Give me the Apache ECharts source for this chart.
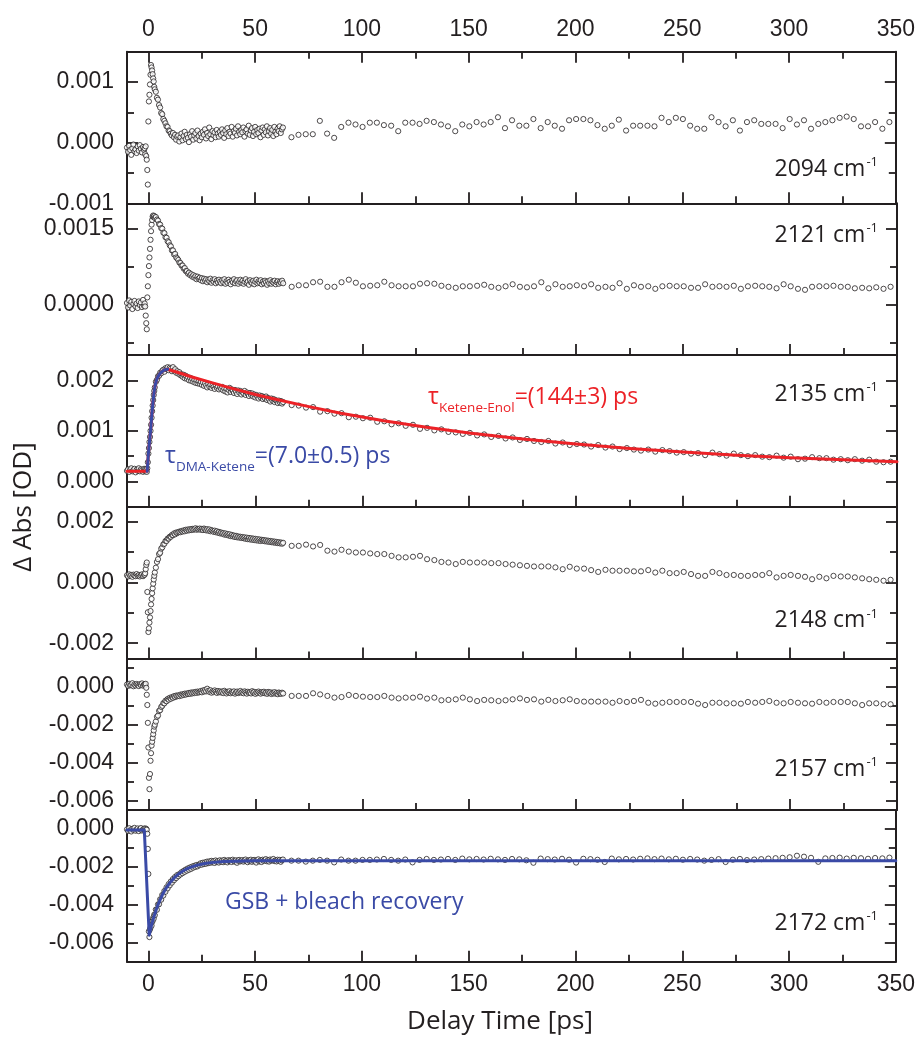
<!DOCTYPE html>
<html>
<head>
<meta charset="utf-8">
<script src="https://cdn.jsdelivr.net/npm/echarts@6/dist/echarts.min.js"></script>
<style>
html,body{margin:0;padding:0;background:#fff;}
#chart{width:918px;height:1038px;}
</style>
</head>
<body>
<div id="chart"></div>
<script>
// ---------- shared delay-time grids (ps) ----------
const T_DENSE = [
-10,-9.5,-9,-8.5,-8,-7.5,-7,-6.5,-6,-5.5,-5,-4.5,-4,-3.5,-3,-2.5,-2,
-1.75,-1.5,-1.25,-1,-0.75,-0.5,-0.25,0,0.25,0.5,0.75,1,1.25,1.5,1.75,2,2.25,2.5,2.75,3,
3.5,4,4.5,5,5.5,6,6.5,7,7.5,8,8.5,9,9.5,10,10.5,11,11.5,12,12.5,13,13.5,
14,14.5,15,15.5,16,16.5,17,17.5,18,18.5,19,19.5,20,20.5,21,21.5,22,22.5,23,23.5,
24,24.5,25,25.5,26,26.5,27,27.5,28,28.5,29,29.5,30,30.5,31,31.5,32,32.5,33,33.5,
34,34.5,35,35.5,36,36.5,37,37.5,38,38.5,39,39.5,40,40.5,41,41.5,42,42.5,43,43.5,
44,44.5,45,45.5,46,46.5,47,47.5,48,48.5,49,49.5,50,50.5,51,51.5,52,52.5,53,53.5,
54,54.5,55,55.5,56,56.5,57,57.5,58,58.5,59,59.5,60,60.5,61,61.5,62,62.5,63
];
const T_SPARSE = [
67,70.3,73.7,77,80.3,83.7,87,90.3,93.7,97,
100.3,103.7,107,110.3,113.7,117,120.3,123.7,127,130.3,
133.7,137,140.3,143.7,147,150.3,153.7,157,160.3,163.7,
167,170.3,173.7,177,180.3,183.7,187,190.3,193.7,197,
200.3,203.7,207,210.3,213.7,217,220.3,223.7,227,230.3,
233.7,237,240.3,243.7,247,250.3,253.7,257,260.3,263.7,
267,270.3,273.7,277,280.3,283.7,287,290.3,293.7,297,
300.3,303.7,307,310.3,313.7,317,320.3,323.7,327,330.3,
333.7,337,340.3,343.7,347
];

// ---------- 2094 cm-1 ----------
const d2094 = [
-0.00008,-0.00015,-0.00005,-0.00012,-0.0002,-0.00009,-0.00003,-0.00014,-0.00011,-0.00017,-0.00006,-0.00013,-0.00004,-0.0001,-0.00016,-0.00007,-0.00012,
-0.00009,-0.00019,-0.00006,-0.00022,-0.00028,-0.00045,-0.00069,0.00035,0.00068,0.00079,0.00096,0.00112,0.00128,0.00124,0.00119,0.00113,0.00106,0.00101,0.00092,0.00088,
0.00084,0.00074,0.00071,0.00062,0.00058,0.00049,0.00047,0.00039,0.00036,0.00032,0.00027,0.00026,0.0002,0.00019,0.00015,0.00012,0.00016,0.00009,0.00013,0.00005,0.0001,
0.00012,0.00002,0.00009,0.00015,0.00004,0.00011,0.00018,0.00006,0.00013,0.00008,0.00001,0.00014,0.0001,0.00019,0.00005,0.00012,0.00016,0.00007,0.0002,0.00011,
0.00004,0.00015,0.00009,0.00018,0.00013,0.00022,0.00007,0.00016,0.00011,0.00025,0.00014,0.00006,0.00019,0.00012,0.00017,0.00009,0.00021,0.00015,0.0001,0.00018,
0.00013,0.00022,0.00016,0.00008,0.0002,0.00014,0.00024,0.00011,0.00018,0.00015,0.00026,0.0001,0.00019,0.00016,0.00023,0.00012,0.00027,0.00018,0.00014,0.00021,
0.00017,0.00025,0.0001,0.00019,0.00022,0.00015,0.00028,0.00013,0.0002,0.00024,0.00011,0.00018,0.00026,0.00014,0.00021,0.00016,0.00023,0.00009,0.0002,0.00025,
0.00013,0.00022,0.00017,0.00027,0.00012,0.00019,0.00024,0.00015,0.00021,0.00011,0.00026,0.00018,0.00014,0.00023,0.00019,0.00027,0.00016,0.00022,0.00025
];
const s2094 = [
0.00009,0.00013,0.00014,0.00014,0.00036,0.00015,0.00008,0.00026,0.00033,0.0003,
0.00026,0.00033,0.00033,0.00029,0.00028,0.00019,0.00033,0.00033,0.00031,0.00036,0.00034,
0.0003,0.00027,0.00019,0.0003,0.00027,0.00034,0.0003,0.00034,0.00042,0.00024,
0.00037,0.00028,0.00028,0.00039,0.00024,0.00034,0.00028,0.00023,0.00037,0.00039,
0.00039,0.00037,0.00029,0.00023,0.00028,0.00038,0.0002,0.00028,0.00028,0.00028,
0.00027,0.00041,0.00034,0.00041,0.00039,0.00028,0.00023,0.00023,0.00042,0.00034,
0.00027,0.00037,0.0002,0.00034,0.00037,0.00031,0.00031,0.00031,0.00024,0.00039,
0.0003,0.00037,0.00023,0.00031,0.00034,0.00037,0.00041,0.00043,0.00039,0.00027,
0.00027,0.00034,0.00023,0.00034
];

// ---------- 2121 cm-1 ----------
const d2121 = [
0.00003,-0.00006,0.00008,-0.00002,0.00005,-0.00009,0.00001,0.00007,-0.00004,0.00002,-0.00007,0.00006,-0.00001,0.00004,-0.00005,0.00009,-0.00003,
0.00002,-0.00004,-0.00022,-0.00037,-0.00049,0.00014,0.00036,0.00058,0.00076,0.00093,0.0011,0.00128,0.00145,0.00158,0.00167,0.00174,0.00176,0.00173,0.00175,0.00171,
0.00173,0.00168,0.00166,0.00159,0.00158,0.00151,0.0015,0.00142,0.00141,0.00133,0.00132,0.00125,0.00123,0.00117,0.00115,0.00107,0.00107,0.00099,0.001,0.00093,0.00091,
0.00088,0.00083,0.00082,0.00077,0.00077,0.00071,0.00072,0.00066,0.00066,0.00061,0.00063,0.00058,0.0006,0.00055,0.00058,0.00053,0.00056,0.0005,0.00055,0.00051,
0.00053,0.00048,0.00052,0.00046,0.00051,0.00047,0.0005,0.00044,0.00049,0.00046,0.00051,0.00043,0.00048,0.00045,0.0005,0.00042,0.00047,0.00044,0.00049,0.00045,
0.00042,0.00048,0.00044,0.0005,0.00041,0.00046,0.00043,0.00049,0.00045,0.0004,0.00047,0.00044,0.0005,0.00042,0.00046,0.00048,0.00041,0.00045,0.00049,0.00043,
0.00047,0.00041,0.00045,0.0005,0.00043,0.00046,0.00039,0.00048,0.00044,0.00042,0.00047,0.0004,0.00045,0.00049,0.00042,0.00046,0.00043,0.00048,0.0004,0.00045,
0.00042,0.00047,0.00044,0.00039,0.00046,0.00042,0.00048,0.00041,0.00045,0.00043,0.00047,0.0004,0.00044,0.00046,0.00041,0.00045,0.00043,0.00047,0.00042
];
const s2121 = [
0.00035,0.00038,0.00038,0.00044,0.00045,0.00035,0.00035,0.00044,0.00049,0.00043,
0.00036,0.00037,0.00038,0.00045,0.00038,0.00036,0.00036,0.00036,0.00041,0.00042,0.00041,
0.00037,0.00035,0.00033,0.00036,0.00036,0.00037,0.00039,0.00035,0.00033,0.00036,
0.0004,0.00035,0.00034,0.00036,0.00044,0.00032,0.0004,0.00035,0.00036,0.00038,
0.00036,0.0004,0.00033,0.00035,0.00033,0.00042,0.00031,0.00038,0.00035,0.00036,
0.00031,0.00036,0.00037,0.00036,0.00036,0.00033,0.00033,0.0004,0.00035,0.00036,
0.00035,0.00037,0.00031,0.00036,0.00037,0.00036,0.00035,0.00032,0.0004,0.00036,
0.00031,0.00029,0.00035,0.00036,0.00036,0.00037,0.00035,0.00035,0.00032,0.00033,
0.00032,0.00034,0.00031,0.00035
];

// ---------- 2135 cm-1 ----------
const d2135 = [
0.00021,0.00024,0.00019,0.00023,0.00026,0.0002,0.00022,0.00025,0.00018,0.00023,0.00021,0.00026,0.0002,0.00024,0.00022,0.00019,0.00025,
0.00021,0.00024,0.0002,0.00023,0.00019,0.00026,0.00038,0.00055,0.00066,0.00078,0.00088,0.001,0.00112,0.00126,0.00139,0.0015,0.00161,0.00171,0.00179,0.00186,
0.00197,0.00201,0.00208,0.00209,0.00215,0.00214,0.00219,0.00221,0.00217,0.00224,0.00222,0.00226,0.0022,0.00225,0.00223,0.00218,0.00226,0.00219,0.00222,0.00215,0.00218,
0.00213,0.00216,0.0021,0.00212,0.00207,0.00211,0.00204,0.00209,0.00203,0.00206,0.002,0.00205,0.00199,0.00203,0.00197,0.00201,0.00195,0.002,0.00194,0.00198,
0.00193,0.00197,0.00191,0.00196,0.00189,0.00194,0.0019,0.00186,0.00193,0.00188,0.00191,0.00185,0.0019,0.00187,0.00183,0.00189,0.00185,0.00188,0.00182,0.00186,
0.00183,0.00187,0.0018,0.00184,0.00178,0.00183,0.00176,0.00181,0.00185,0.00177,0.00182,0.00179,0.00175,0.00181,0.00177,0.00173,0.0018,0.00176,0.00179,0.00172,
0.00177,0.00174,0.00179,0.00171,0.00176,0.00173,0.00169,0.00175,0.00171,0.00174,0.00168,0.00172,0.00166,0.00171,0.00168,0.00164,0.0017,0.00166,0.00169,0.00163,
0.00167,0.00164,0.00168,0.00161,0.00165,0.00162,0.00158,0.00164,0.0016,0.00163,0.00157,0.00161,0.00159,0.00155,0.0016,0.00156,0.00159,0.00154,0.00157
];
const s2135 = [
0.00151,0.0015,0.00146,0.00147,0.00138,0.00139,0.00134,0.00135,0.00127,0.00128,0.00125,
0.00126,0.00118,0.00119,0.00113,0.00115,0.0011,0.00112,0.00104,0.00106,0.00101,0.00103,
0.00098,0.00097,0.00094,0.00096,0.00091,0.00093,0.00088,0.0009,0.00085,0.00087,0.00082,
0.00084,0.0008,0.00078,0.0008,0.00075,0.00077,0.00072,0.00074,0.00073,0.00069,0.00072,
0.00067,0.00069,0.00064,0.00066,0.00063,0.00061,0.00063,0.00059,0.00062,0.0006,0.00057,
0.00058,0.00055,0.00056,0.00052,0.00057,0.00054,0.00051,0.00055,0.00052,0.0005,0.00052,
0.00049,0.00048,0.00051,0.00047,0.00049,0.00044,0.00045,0.00048,0.00046,0.00046,0.00043,
0.00044,0.00042,0.00044,0.00041,0.00043,0.00039,0.00038,0.00039
];
// fits for 2135 cm-1
const fitRedT = [-10,-0.6,0,0.5,1,1.5,2,2.5,3,3.5,4,5,6,7,8,9,15,20,30,40,50,60,75,90,110,130,150,175,200,225,250,275,300,325,350];
const fitRedV = [0.0002,0.0002,0.00055,0.00078,0.001,0.00126,0.0015,0.00171,0.00186,0.00196,0.00203,0.00211,0.00216,0.00219,0.00221,0.00222,0.00214,0.00207,0.00195,0.00183,0.00172,0.00162,0.00148,0.00135,0.0012,0.00107,0.00096,0.00084,0.00074,0.00065,0.00058,0.00052,0.00047,0.00043,0.00039];
const fitBlue3T = [-0.6,-0.3,0,0.5,1,1.5,2,2.5,3,3.5,4,5,6,7,8,9];
const fitBlue3V = [0.0002,0.00035,0.00055,0.00078,0.001,0.00126,0.0015,0.00171,0.00186,0.00196,0.00203,0.00211,0.00216,0.00219,0.00221,0.00222];

// ---------- 2148 cm-1 ----------
const d2148 = [
0.00024,0.0002,0.00027,0.00022,0.00025,0.00019,0.00026,0.00023,0.00021,0.00028,0.00022,0.00025,0.0002,0.00024,0.00027,0.00021,0.00025,
0.00026,0.00031,0.00044,0.00058,0.00066,-0.00031,-0.00098,-0.00163,-0.00151,-0.00132,-0.00115,-0.00094,-0.00072,-0.00054,-0.00035,-0.00019,-0.00004,0.0001,0.00022,0.00033,
0.00049,0.00068,0.00077,0.00094,0.00098,0.00112,0.00116,0.00126,0.00128,0.00137,0.00137,0.00145,0.00145,0.00151,0.00151,0.00157,0.00156,0.00162,0.00159,0.00165,0.00163,
0.00166,0.00168,0.00166,0.0017,0.00168,0.00172,0.00169,0.00174,0.00171,0.00175,0.00172,0.00176,0.00173,0.00177,0.00174,0.00176,0.00179,0.00174,0.00177,0.00175,
0.00178,0.00174,0.00177,0.00173,0.00178,0.00175,0.00172,0.00176,0.00171,0.00175,0.00169,0.00173,0.0017,0.00167,0.00171,0.00166,0.00169,0.00164,0.00167,0.00162,
0.00165,0.00161,0.00163,0.00158,0.00162,0.00157,0.0016,0.00155,0.00159,0.00153,0.00157,0.00152,0.00155,0.0015,0.00154,0.00149,0.00152,0.00148,0.00151,0.00147,
0.0015,0.00146,0.00149,0.00144,0.00148,0.00143,0.00147,0.00142,0.00146,0.00141,0.00145,0.0014,0.00144,0.00139,0.00143,0.00138,0.00142,0.00137,0.00141,0.00138,
0.0014,0.00136,0.00139,0.00135,0.00138,0.00134,0.00137,0.00133,0.00136,0.00132,0.00135,0.00131,0.00134,0.0013,0.00133,0.00129,0.00132,0.00128,0.00131
];
const s2148 = [
0.00121,0.00121,0.00125,0.00119,0.00124,0.00105,0.00102,0.00108,0.00102,0.00099,
0.00099,0.00096,0.00094,0.00094,0.00088,0.00083,0.00083,0.00085,0.00088,0.00077,0.00074,
0.00068,0.00066,0.00061,0.00068,0.00066,0.00066,0.00066,0.00064,0.00064,0.00061,
0.00059,0.00057,0.00055,0.00053,0.00053,0.00053,0.0005,0.00044,0.00052,0.00046,
0.00046,0.00041,0.00035,0.00042,0.00039,0.00039,0.00039,0.00037,0.00037,0.00041,
0.00033,0.00039,0.00031,0.00031,0.00035,0.00028,0.00022,0.00022,0.00035,0.00031,
0.00025,0.00025,0.00022,0.00022,0.00025,0.00025,0.00031,0.00017,0.00022,0.00025,
0.00022,0.00019,0.00011,0.00019,0.00014,0.00022,0.0002,0.0002,0.00017,0.00014,
0.00011,0.00009,0.00006,0.00009
];

// ---------- 2157 cm-1 ----------
const d2157 = [
0.00012,0.00005,0.00016,0.00008,0.0001,0.00019,0.00003,0.00013,0.00007,0.00015,0.0001,0.00004,0.00014,0.00009,0.00018,0.00006,0.00011,
0.00013,0.00007,0.00016,-0.00005,-0.00042,-0.00096,-0.0019,-0.0032,-0.0048,-0.0054,-0.0046,-0.0039,-0.0035,-0.0031,-0.0029,-0.0027,-0.0025,-0.0023,-0.0021,-0.002,
-0.00183,-0.00158,-0.00152,-0.00127,-0.00123,-0.00106,-0.001,-0.00086,-0.00087,-0.00073,-0.00076,-0.00064,-0.00068,-0.00058,-0.00063,-0.00054,-0.00058,-0.00049,-0.00054,-0.00046,-0.0005,
-0.00045,-0.00049,-0.00041,-0.00046,-0.00039,-0.00043,-0.00036,-0.00041,-0.00035,-0.00038,-0.00032,-0.00037,-0.0003,-0.00035,-0.00029,-0.00033,-0.00027,-0.00032,-0.00025,-0.0003,
-0.00027,-0.00022,-0.00029,-0.00019,-0.00025,-0.00016,-0.00024,-0.0001,-0.00021,-0.00027,-0.00018,-0.00031,-0.00023,-0.00028,-0.00019,-0.00026,-0.00032,-0.00022,-0.00029,-0.00024,
-0.0003,-0.00025,-0.00033,-0.00021,-0.00028,-0.00035,-0.00026,-0.0003,-0.00023,-0.00034,-0.00027,-0.00031,-0.00024,-0.00036,-0.00029,-0.00025,-0.00033,-0.00028,-0.00022,-0.00031,
-0.00027,-0.00034,-0.00024,-0.0003,-0.00036,-0.00026,-0.00032,-0.00028,-0.00035,-0.00023,-0.0003,-0.00027,-0.00037,-0.00029,-0.00033,-0.00025,-0.00031,-0.00036,-0.00028,-0.00032,
-0.00026,-0.00034,-0.0003,-0.00037,-0.00027,-0.00033,-0.00029,-0.00038,-0.00031,-0.00035,-0.00028,-0.00036,-0.00032,-0.00039,-0.0003,-0.00034,-0.00037,-0.00031,-0.00035
];
const s2157 = [
-0.00048,-0.00048,-0.00048,-0.00034,-0.0004,-0.00048,-0.00057,-0.00054,-0.00043,-0.00048,
-0.00052,-0.00054,-0.00054,-0.00048,-0.00057,-0.00061,-0.00057,-0.00057,-0.00052,-0.00062,-0.00057,
-0.00071,-0.00069,-0.00066,-0.00057,-0.00066,-0.00075,-0.00069,-0.00071,-0.00075,-0.00071,
-0.00066,-0.00061,-0.00069,-0.00066,-0.00078,-0.00069,-0.00075,-0.00071,-0.00066,-0.00075,
-0.00078,-0.00078,-0.00078,-0.00078,-0.00084,-0.00075,-0.0008,-0.00075,-0.00069,-0.00084,
-0.00089,-0.00084,-0.0008,-0.0008,-0.0008,-0.0008,-0.00089,-0.00096,-0.00084,-0.00084,
-0.00087,-0.00087,-0.00089,-0.0008,-0.00084,-0.0008,-0.00075,-0.00084,-0.00087,-0.0008,
-0.00084,-0.00087,-0.00089,-0.0008,-0.00084,-0.0008,-0.0008,-0.0008,-0.00087,-0.00096,
-0.00087,-0.00087,-0.00092,-0.00092
];

// ---------- 2172 cm-1 ----------
const d2172 = [
-0.00002,-0.0001,0.00004,-0.00007,-0.00013,0.00001,-0.00005,0.00006,-0.00009,-0.00003,0.00003,-0.00011,-0.00001,0.00005,-0.00008,-0.00004,0.00002,
-0.00006,0.00003,-0.00009,0.00001,-0.00004,-0.00025,-0.00105,-0.00237,-0.0054,-0.0057,-0.0053,-0.0052,-0.00505,-0.0051,-0.0049,-0.00485,-0.00468,-0.00473,-0.00452,-0.00455,
-0.00425,-0.00426,-0.00398,-0.00397,-0.00371,-0.00373,-0.00348,-0.00351,-0.00327,-0.00331,-0.00308,-0.00313,-0.00291,-0.00297,-0.00277,-0.00283,-0.00264,-0.0027,-0.00253,-0.00259,-0.00243,
-0.00249,-0.00238,-0.0024,-0.00228,-0.00233,-0.00221,-0.00226,-0.00214,-0.0022,-0.00208,-0.00215,-0.00203,-0.0021,-0.00198,-0.00204,-0.00194,-0.002,-0.0019,-0.00197,-0.00188,
-0.0019,-0.00181,-0.00188,-0.00178,-0.00185,-0.00176,-0.00183,-0.00172,-0.0018,-0.00171,-0.00178,-0.00168,-0.00176,-0.0017,-0.00179,-0.00166,-0.00174,-0.00169,-0.00177,-0.00165,
-0.00173,-0.00167,-0.00175,-0.00163,-0.00171,-0.00168,-0.00176,-0.00164,-0.0017,-0.00166,-0.00174,-0.00162,-0.00169,-0.00172,-0.00165,-0.00178,-0.00167,-0.00163,-0.00171,-0.00168,
-0.00164,-0.00172,-0.00166,-0.00161,-0.0017,-0.00175,-0.00165,-0.00168,-0.00162,-0.00173,-0.00167,-0.00163,-0.00169,-0.00177,-0.00164,-0.0016,-0.00171,-0.00166,-0.00174,-0.00162,
-0.00168,-0.00163,-0.00159,-0.0017,-0.00165,-0.00172,-0.00161,-0.00167,-0.00164,-0.00158,-0.00169,-0.00166,-0.00171,-0.00162,-0.00168,-0.00163,-0.00173,-0.00165,-0.00161
];
const s2172 = [
-0.00167,-0.00167,-0.00172,-0.00167,-0.00163,-0.00167,-0.00176,-0.00161,-0.00167,-0.00167,
-0.00163,-0.00163,-0.00161,-0.00158,-0.00163,-0.00167,-0.00161,-0.00176,-0.00163,-0.00158,-0.00163,
-0.00161,-0.00158,-0.00163,-0.00156,-0.0016,-0.00158,-0.00161,-0.00157,-0.0016,-0.00163,
-0.00158,-0.0016,-0.00165,-0.00178,-0.00156,-0.00159,-0.00161,-0.00157,-0.00162,-0.00177,
-0.00157,-0.00159,-0.00162,-0.00174,-0.00156,-0.0016,-0.00158,-0.00161,-0.00157,-0.00155,
-0.00159,-0.00156,-0.0016,-0.00157,-0.00162,-0.00158,-0.00161,-0.00167,-0.00163,-0.00159,
-0.00174,-0.00162,-0.00158,-0.00164,-0.00161,-0.00159,-0.00156,-0.00154,-0.00152,-0.00149,
-0.00141,-0.00146,-0.00152,-0.00173,-0.00155,-0.00153,-0.00151,-0.00156,-0.00152,-0.00154,
-0.00157,-0.00153,-0.00155,-0.00151
];
const fitBlue6T = [-10,-1.9,0.4,1.4,2.4,3.4,4.4,5.4,6.4,7.4,8.4,10.4,12.4,14.4,16.4,18.4,20.4,22.4,26.4,30.4,35.4,40.4,50,350];
const fitBlue6V = [-0.00005,-0.00005,-0.0056,-0.00511,-0.00471,-0.00435,-0.00404,-0.00376,-0.00351,-0.0033,-0.0031,-0.00279,-0.00254,-0.00235,-0.0022,-0.00208,-0.002,-0.00192,-0.00182,-0.00176,-0.00172,-0.0017,-0.00168,-0.00167];

// ---------- axes ----------
const PANEL_NAMES = ['2094','2121','2135','2148','2157','2172'];
const X_MIN = -10, X_MAX = 350;
const X_MAJOR = [0,50,100,150,200,250,300,350];
const X_MINOR = [25,75,125,175,225,275,325];
const Y_MIN = [-0.001,-0.001,-0.0005,-0.0025,-0.0065,-0.007];
const Y_MAX = [0.0015,0.002,0.0025,0.0025,0.0015,0.001];
const Y_MAJOR = [[-0.001,0,0.001],[0,0.0015],[0,0.001,0.002],[-0.002,0,0.002],[-0.006,-0.004,-0.002,0],[-0.006,-0.004,-0.002,0]];
const Y_MINOR = [[-0.0005,0.0005],[-0.00075,0.00075],[0.0005,0.0015],[-0.001,0.001],[-0.005,-0.003,-0.001,0.001],[-0.005,-0.003,-0.001]];
const Y_DEC = [3,4,3,3,3,3];

const DENSE = [d2094,d2121,d2135,d2148,d2157,d2172];
const SPARSE = [s2094,s2121,s2135,s2148,s2157,s2172];

const INK = '#231f20';
const RED = '#ec2227';
const BLUE = '#3a4aa6';
const NUMFONT = '"Liberation Sans", Arial, sans-serif';
const TXTFONT = '"Open Sans", "Noto Sans", sans-serif';

const GRID_TOP = 51.7, GRID_H = 151.67;
const grids = [], xAxes = [], yAxes = [], series = [];

function tickAxisX(g, pos, values, len, showLine, labels) {
  return {
    type:'value', gridIndex:g, position:pos, min:X_MIN, max:X_MAX,
    axisLine:{show:showLine, onZero:false, lineStyle:{color:INK, width:2}},
    axisTick:{show:true, inside:true, length:len, customValues:values, lineStyle:{color:INK, width:1.8}},
    axisLabel:{show:!!labels, customValues:values, margin:11, color:INK, fontFamily:NUMFONT, fontSize:23},
    splitLine:{show:false}, minorTick:{show:false}
  };
}
function tickAxisY(g, pos, values, len, showLine, labels) {
  return {
    type:'value', gridIndex:g, position:pos, min:Y_MIN[g], max:Y_MAX[g],
    axisLine:{show:showLine, onZero:false, lineStyle:{color:INK, width:2}},
    axisTick:{show:true, inside:true, length:len, customValues:values, lineStyle:{color:INK, width:1.8}},
    axisLabel:{show:!!labels, customValues:values, margin:13, color:INK, fontFamily:NUMFONT, fontSize:23,
      formatter:(v)=>Number(v).toFixed(Y_DEC[g])},
    splitLine:{show:false}, minorTick:{show:false}
  };
}

for (let g = 0; g < 6; g++) {
  grids.push({left:127, right:21, top:GRID_TOP + g*GRID_H, height:GRID_H, containLabel:false});
  xAxes.push(tickAxisX(g,'bottom',X_MAJOR,11,true,g===5));
  xAxes.push(tickAxisX(g,'bottom',X_MINOR,7,false,false));
  yAxes.push(tickAxisY(g,'left',Y_MAJOR[g],11,true,true));
  yAxes.push(tickAxisY(g,'left',Y_MINOR[g],7,false,false));
  yAxes.push(tickAxisY(g,'right',Y_MAJOR[g],11,true,false));
  yAxes.push(tickAxisY(g,'right',Y_MINOR[g],7,false,false));

  const pts = [];
  T_DENSE.forEach((t,i)=>pts.push([t, DENSE[g][i]]));
  T_SPARSE.forEach((t,i)=>pts.push([t, SPARSE[g][i]]));
  series.push({
    type:'scatter', xAxisIndex:2*g, yAxisIndex:4*g, data:pts,
    symbol:'circle', symbolSize:5.2, z:2, silent:true,
    itemStyle:{color:'#ffffff', borderColor:INK, borderWidth:1}
  });
}
// top axis of first panel
xAxes.push(tickAxisX(0,'top',X_MAJOR,11,true,true));
xAxes.push(tickAxisX(0,'top',X_MINOR,7,false,false));

function fitLine(g, ts, vs, color) {
  return {
    type:'line', xAxisIndex:2*g, yAxisIndex:4*g, data:ts.map((t,i)=>[t,vs[i]]),
    showSymbol:false, symbol:'none', smooth:false, z:4, silent:true, clip:true,
    lineStyle:{color:color, width:3, join:'round', cap:'round'}
  };
}
series.push(fitLine(2, fitRedT, fitRedV, RED));
series.push(fitLine(2, fitBlue3T, fitBlue3V, BLUE));
series.push(fitLine(5, fitBlue6T, fitBlue6V, BLUE));

// ---------- text ----------
const WN_Y = [169, 235, 394, 620.5, 769, 923];
const graphics = [];
PANEL_NAMES.forEach((n,g)=>{
  graphics.push({
    type:'text', x:878, y:WN_Y[g], silent:true,
    style:{
      text:'{m|'+n+' cm}{p|-1}', align:'right', verticalAlign:'middle',
      textAlign:'right', textVerticalAlign:'middle',
      rich:{
        m:{fontFamily:TXTFONT, fontSize:23, lineHeight:28, fill:INK, color:INK},
        p:{fontFamily:TXTFONT, fontSize:13, lineHeight:14, padding:[0,0,13,1], fill:INK, color:INK}
      }
    }
  });
});
function tauText(x, y, sub, rest, color) {
  return {
    type:'text', x:x, y:y, silent:true,
    style:{
      text:'{m|τ}{s|'+sub+'}{m|'+rest+'}', align:'left', verticalAlign:'middle',
      textAlign:'left', textVerticalAlign:'middle',
      rich:{
        m:{fontFamily:TXTFONT, fontSize:23, lineHeight:28, fill:color, color:color},
        s:{fontFamily:TXTFONT, fontSize:13.5, lineHeight:16, padding:[22,0,0,0], fill:color, color:color}
      }
    }
  };
}
graphics.push(tauText(428, 397, 'Ketene-Enol', '=(144±3) ps', RED));
graphics.push(tauText(165, 456, 'DMA-Ketene', '=(7.0±0.5) ps', BLUE));
graphics.push({
  type:'text', x:225, y:902, silent:true,
  style:{text:'GSB + bleach recovery', fontFamily:TXTFONT, fontSize:23, fill:BLUE,
    align:'left', verticalAlign:'middle', textAlign:'left', textVerticalAlign:'middle'}
});
graphics.push({
  type:'text', x:24, y:507, rotation:Math.PI/2, silent:true,
  style:{text:'Δ Abs [OD]', fontFamily:TXTFONT, fontSize:26, fill:INK,
    align:'center', verticalAlign:'middle', textAlign:'center', textVerticalAlign:'middle'}
});
graphics.push({
  type:'text', x:500, y:1022, silent:true,
  style:{text:'Delay Time [ps]', fontFamily:TXTFONT, fontSize:26, fill:INK,
    align:'center', verticalAlign:'middle', textAlign:'center', textVerticalAlign:'middle'}
});

const chart = echarts.init(document.getElementById('chart'), null, {renderer:'canvas'});
chart.setOption({
  animation:false,
  backgroundColor:'#ffffff',
  grid:grids, xAxis:xAxes, yAxis:yAxes, series:series,
  graphic:{elements:graphics}
});
</script>
</body>
</html>
